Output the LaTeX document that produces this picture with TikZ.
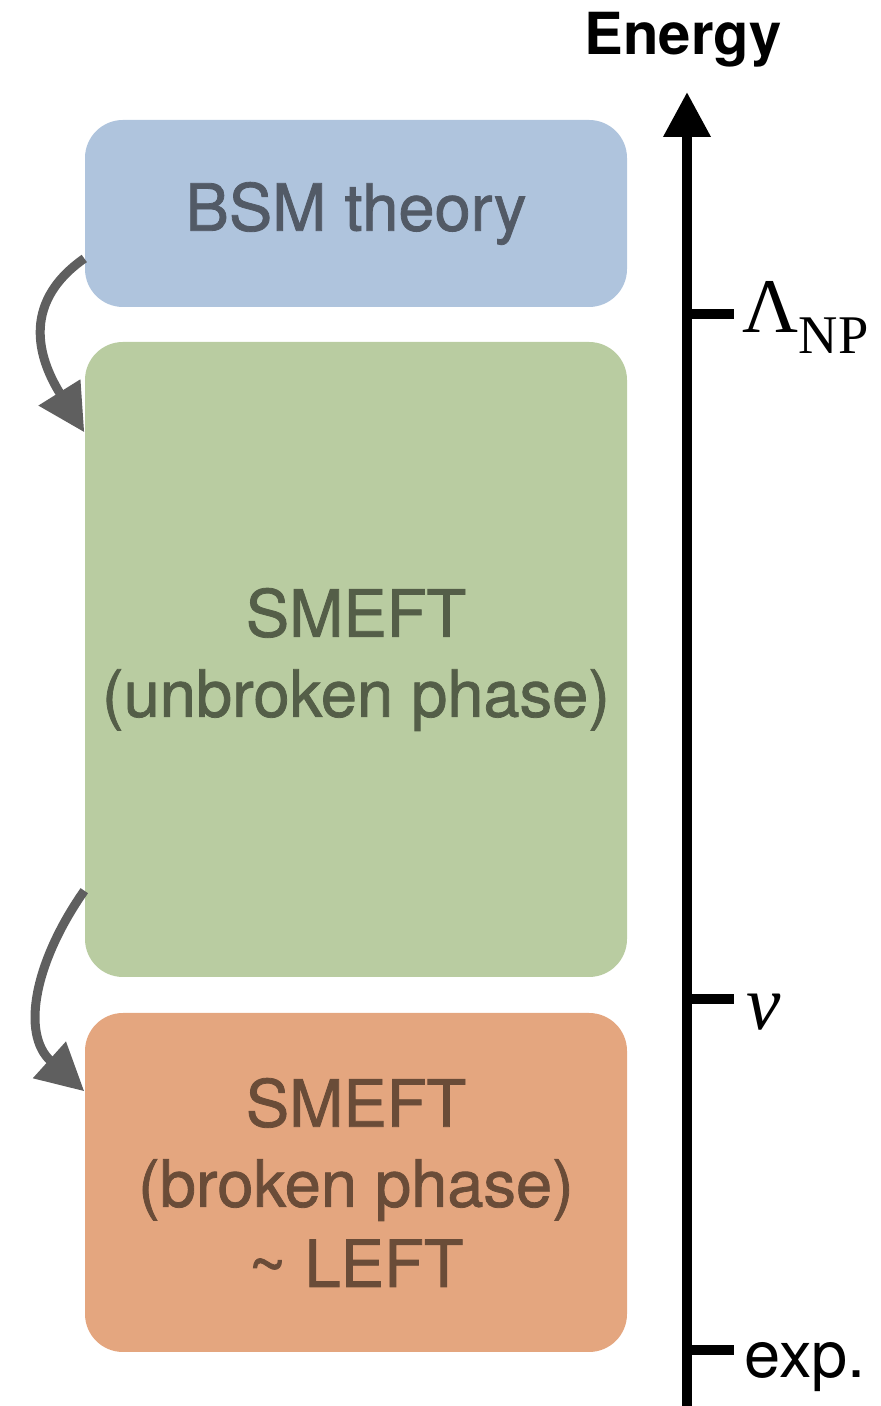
\documentclass[tikz,border=0pt]{standalone}
\usepackage{fontspec}
\setmainfont{TeX Gyre Heros}
\newfontfamily\boxfont{TeX Gyre Heros}[FakeBold=1.2]
\newfontfamily\timesfont{Liberation Serif}
\usetikzlibrary{arrows.meta,calc,positioning}
\definecolor{bsmblue}{HTML}{AFC4DD}
\definecolor{smeftgreen}{HTML}{B9CCA1}
\definecolor{leftorange}{HTML}{E4A67F}
\definecolor{bsmtext}{HTML}{525A66}
\definecolor{greentext}{HTML}{545E48}
\definecolor{orangetext}{HTML}{6A4C38}
\definecolor{flowgray}{HTML}{5F5F5F}

\begin{document}
\begin{tikzpicture}[
  theorybox/.style={rounded corners=0.38cm, minimum width=5.42cm, inner sep=0pt,
    align=center, font=\boxfont\fontsize{18.5}{22.8}\selectfont},
  flow/.style={line width=0.09cm, flowgray, -{Triangle[length=0.47cm,width=0.47cm]}},
  axisline/.style={line width=0.1cm, black},
  scalelabel/.style={anchor=base west, inner sep=0pt},
]
  \useasboundingbox (0,0) rectangle (8.81,14.06);

  % Theory boxes
  \node[theorybox, fill=bsmblue, text=bsmtext, minimum height=1.87cm] (bsm) at (3.56,11.925) {BSM theory};
  \node[theorybox, fill=smeftgreen, text=greentext, minimum height=6.35cm] (smeft) at (3.56,7.465) {SMEFT\\(unbroken phase)};
  \node[theorybox, fill=leftorange, text=orangetext, minimum height=3.39cm] (left) at (3.56,2.235) {SMEFT\\(broken phase)\\\textasciitilde{} LEFT};

  % Matching arrows
  \draw[flow] ([yshift=-0.45cm]bsm.west) to[out=215, in=122, looseness=1.2] ([yshift=-0.91cm]smeft.north west);
  \draw[flow] ([yshift=0.87cm]smeft.south west) to[out=235, in=138, looseness=1.1] ([yshift=-0.79cm]left.north west);

  % Energy axis
  \coordinate (axisbottom) at (6.87,0);
  \coordinate (axistop) at (6.87,13.14);
  \draw[axisline, -{Triangle[length=0.45cm,width=0.45cm]}] (axisbottom) -- (axistop);
  \node[font=\fontsize{16.5}{20}\selectfont\bfseries, anchor=base] (energy) at (6.83,13.51) {Energy};

  % Ticks
  \foreach \ya/\tname in {10.92/np, 4.07/ew, 0.56/exp}
    \draw[axisline] (6.87,\ya) -- (7.34,\ya) coordinate (tick\tname);

  % Scale labels
  \node[scalelabel] (lambdanp) at ([xshift=0.08cm, yshift=-0.19cm]ticknp)
    {\timesfont\fontsize{22}{26}\selectfont Λ\raisebox{-5.7pt}{\fontsize{15.5}{18}\selectfont NP}};
  \node[scalelabel] (vev) at ([xshift=0.12cm, yshift=-0.31cm]tickew)
    {\timesfont\itshape\fontsize{22}{26}\selectfont v};
  \node[scalelabel] (expscale) at ([xshift=0.1cm, yshift=-0.28cm]tickexp)
    {\fontsize{18.5}{22}\selectfont exp.};
\end{tikzpicture}
\end{document}
